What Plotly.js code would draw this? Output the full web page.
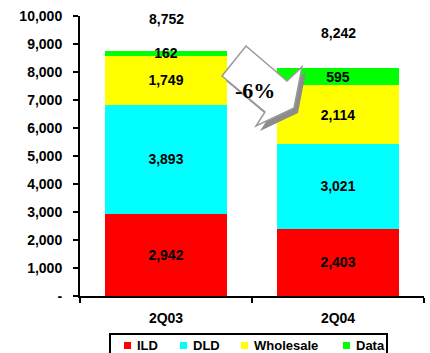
<!DOCTYPE html>
<html>
<head>
<meta charset="utf-8">
<script src="https://cdn.plot.ly/plotly-3.0.1.min.js"></script>
<style>
  html, body { margin: 0; padding: 0; background: #fff; }
  #chart { width: 430px; height: 353px; }
</style>
</head>
<body>
<div id="chart"></div>
<script>
// Quarterly revenue by segment, stacked
const quarters = ['2Q03', '2Q04'];
const ild = [2942, 2403];
const dld = [3893, 3021];
const wholesale = [1749, 2114];
const dataSeg = [162, 595];
const totals = ['8,752', '8,242'];
const changeLabel = '-6%';
const yTickVals = [0, 1000, 2000, 3000, 4000, 5000, 6000, 7000, 8000, 9000, 10000];
const yTickText = ['-', '1,000', '2,000', '3,000', '4,000', '5,000', '6,000', '7,000', '8,000', '9,000', '10,000'];

const segNames = ['ILD', 'DLD', 'Wholesale', 'Data'];
const segColors = ['#ff0000', '#00ffff', '#ffff00', '#00ff00'];
const segValues = [ild, dld, wholesale, dataSeg];

const FONT = 'Arial, "Liberation Sans", sans-serif';

// plot area in pixels
const M = { l: 80, r: 6, t: 16, b: 57 };
const PW = 430 - M.l - M.r;
const PH = 353 - M.t - M.b;
const px = x => (x - M.l) / PW;
const py = y => (353 - M.b - y) / PH;

const traces = segNames.map((name, i) => ({
  type: 'bar', name: name, x: quarters, y: segValues[i],
  marker: { color: segColors[i], line: { width: 0 } },
  text: segValues[i].map(v => v.toLocaleString('en-US')),
  textposition: 'inside', insidetextanchor: 'middle',
  textangle: 0, constraintext: 'none',
  textfont: { family: FONT, size: 14, color: '#000', weight: 'bold' },
  hoverinfo: 'skip'
}));

// block arrow marking the year-on-year change
const face = [[246, 46], [287, 81], [302, 67], [294, 108], [256, 126], [265, 112], [222, 76]];
const toPath = (pts, dx, dy) => 'M ' + pts.map(p => px(p[0] + dx) + ',' + py(p[1] + dy)).join(' L ') + ' Z';

const shapes = [
  { type: 'path', xref: 'paper', yref: 'paper', path: toPath(face, 4, 5),
    fillcolor: '#8c8c8c', line: { width: 0 }, layer: 'above' },
  { type: 'path', xref: 'paper', yref: 'paper', path: toPath(face, 0, 0),
    fillcolor: '#ffffff', line: { color: '#9a9a9a', width: 1.5 }, layer: 'above' },
  // legend frame
  { type: 'rect', xref: 'paper', yref: 'paper', x0: px(110), x1: px(387), y0: py(334), y1: py(368),
    fillcolor: '#ffffff', line: { color: '#000', width: 2 }, layer: 'above' }
];

const annotations = [
  { xref: 'x', yref: 'y', x: quarters[0], y: 9890, text: totals[0], showarrow: false,
    font: { family: FONT, size: 14, color: '#000', weight: 'bold' } },
  { xref: 'x', yref: 'y', x: quarters[1], y: 9390, text: totals[1], showarrow: false,
    font: { family: FONT, size: 14, color: '#000', weight: 'bold' } },
  { xref: 'paper', yref: 'paper', x: px(255), y: py(76), text: changeLabel, showarrow: false,
    font: { family: '"Times New Roman", "Liberation Serif", serif', size: 22, color: '#000', weight: 'bold' } }
];

// legend entries: swatch and label
const swatchX = [124, 180, 241, 343];
segNames.forEach((name, i) => {
  shapes.push({ type: 'rect', xref: 'paper', yref: 'paper',
    x0: px(swatchX[i]), x1: px(swatchX[i] + 7), y0: py(342), y1: py(349),
    fillcolor: segColors[i], line: { width: 0 }, layer: 'above' });
  annotations.push({ xref: 'paper', yref: 'paper', x: px(swatchX[i] + 11), y: py(345.5),
    xanchor: 'left', yanchor: 'middle', text: name, showarrow: false,
    font: { family: FONT, size: 13, color: '#000', weight: 'bold' } });
});

const layout = {
  width: 430, height: 353,
  margin: { l: M.l, r: M.r, t: M.t, b: M.b, autoexpand: false },
  paper_bgcolor: '#fff', plot_bgcolor: '#fff',
  font: { family: FONT, size: 14, color: '#000', weight: 'bold' },
  barmode: 'stack', bargap: 0.285,
  uniformtext: { mode: 'show', minsize: 14 },
  showlegend: false,
  xaxis: {
    type: 'category', range: [-0.5, 1.5], fixedrange: true,
    showline: true, linecolor: '#000', linewidth: 2,
    ticks: 'outside', tickson: 'boundaries', ticklen: 5, tickwidth: 2, tickcolor: '#000',
    ticklabelstandoff: 8,
    tickfont: { family: FONT, size: 14, color: '#000', weight: 'bold' },
    showgrid: false, zeroline: false
  },
  yaxis: {
    range: [0, 10000], fixedrange: true,
    tickvals: yTickVals, ticktext: yTickText,
    showline: true, linecolor: '#000', linewidth: 2,
    ticks: 'outside', ticklen: 5, tickwidth: 2, tickcolor: '#000',
    ticklabelstandoff: 8,
    tickfont: { family: FONT, size: 14, color: '#000', weight: 'bold' },
    showgrid: false, zeroline: false
  },
  shapes: shapes,
  annotations: annotations
};

Plotly.newPlot('chart', traces, layout, { staticPlot: true, displayModeBar: false });
</script>
</body>
</html>
